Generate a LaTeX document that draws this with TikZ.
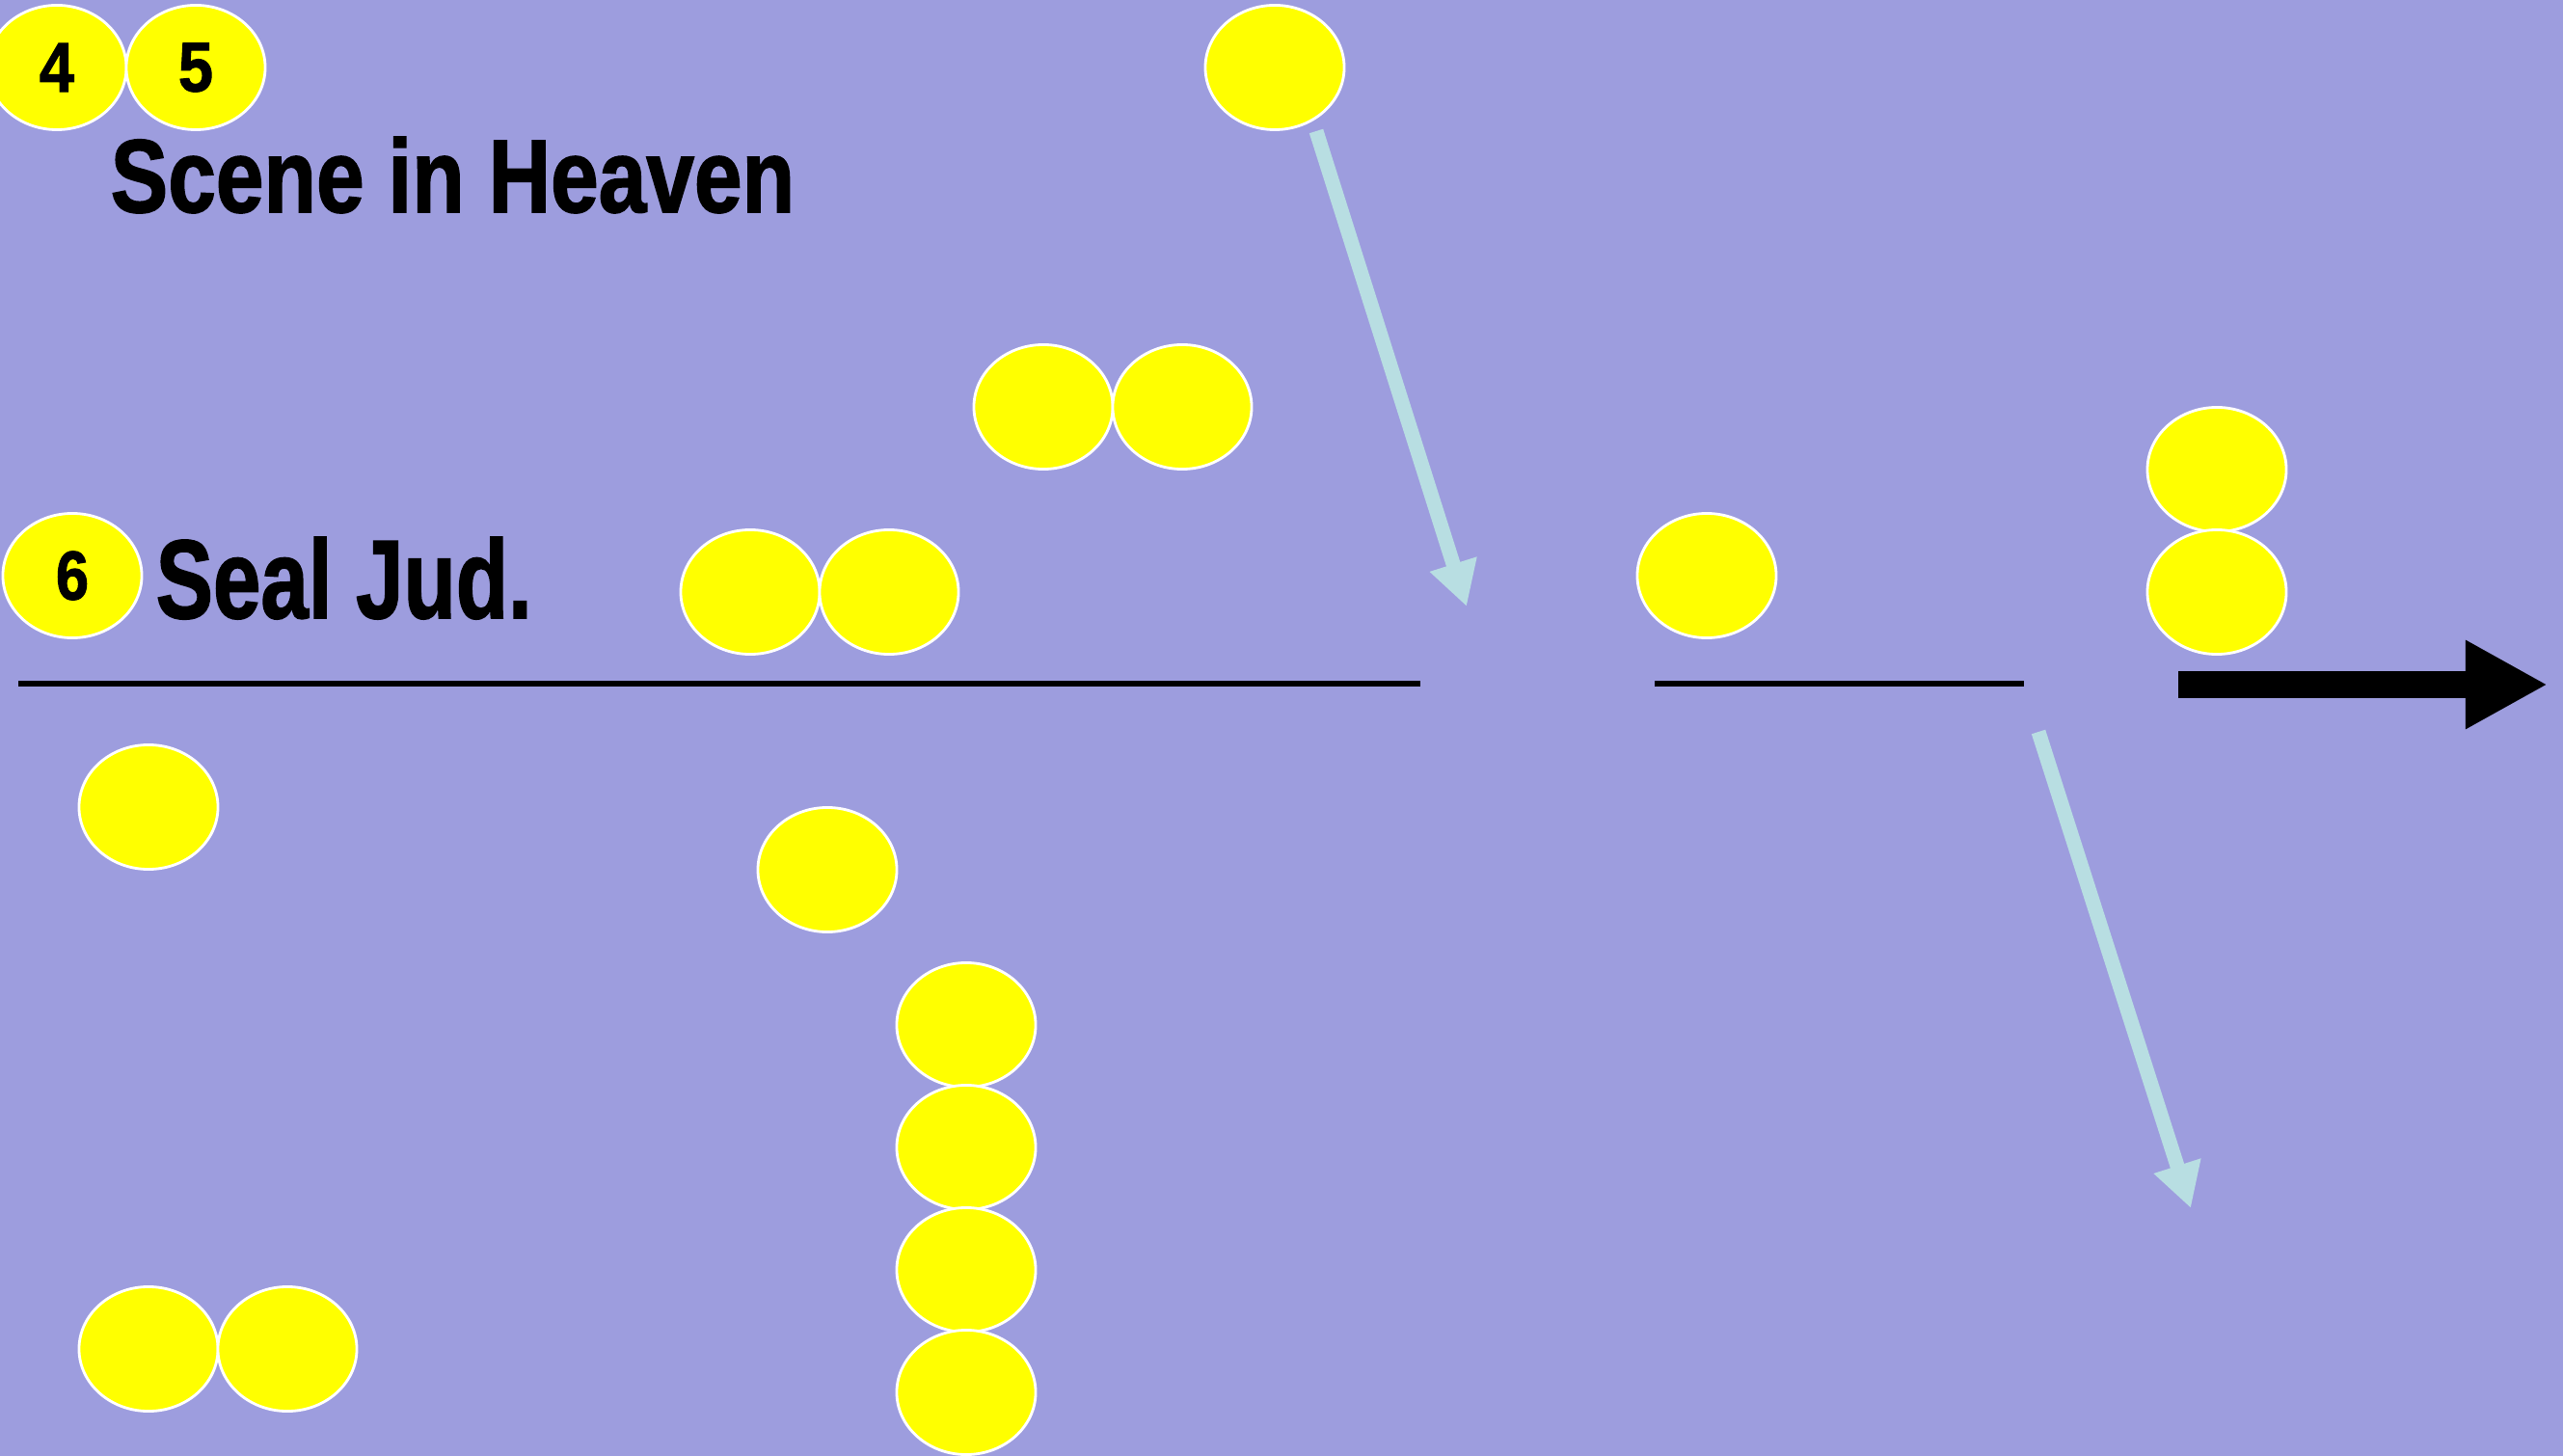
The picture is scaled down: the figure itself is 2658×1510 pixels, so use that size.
\documentclass[tikz,border=0pt]{standalone}
\usepackage{graphicx}
\usepackage{fontspec}
\setmainfont{Liberation Sans}
\newfontfamily\heavy[FakeBold=1.6]{Liberation Sans Bold}
\usetikzlibrary{shapes.geometric,arrows.meta}
\definecolor{bg}{RGB}{157,157,222}
\definecolor{ltblue}{RGB}{184,222,226}
\definecolor{sunny}{RGB}{255,255,0}
\begin{document}
\begin{tikzpicture}[x=0.01cm,y=-0.01cm,
 disc/.style={ellipse,draw=white,line width=0.8pt,fill=sunny,minimum width=1.44cm,minimum height=1.29cm,inner sep=0pt},
 rule/.style={line width=1.8pt,black},
 skyarrow/.style={ltblue,line width=0.15cm,-{Triangle[width=0.48cm,length=0.46cm]}},
 bigarrow/.style={black,line width=0.28cm,-{Triangle[width=0.86cm,length=0.85cm]}},
 title/.style={anchor=base west,inner sep=0pt}]
\fill[bg] (0,0) rectangle (2658,1510);
\useasboundingbox (0,0) rectangle (2658,1510);
% discs
\node[disc] (c4) at (59,70) {\resizebox{0.36cm}{0.5cm}{\heavy 4}};
\node[disc] (c5) at (203,70) {\resizebox{0.36cm}{0.5cm}{\heavy 5}};
\node[disc] (ctop) at (1322,70) {};
\node[disc] (p1) at (1082,422) {};
\node[disc] (p2) at (1226,422) {};
\node[disc] (c6) at (75,597) {\resizebox{0.34cm}{0.5cm}{\heavy 6}};
\node[disc] (q1) at (778,614) {};
\node[disc] (q2) at (922,614) {};
\node[disc] (r1) at (1770,597) {};
\node[disc] (s1) at (2299,487) {};
\node[disc] (s2) at (2299,614) {};
\node[disc] (u1) at (154,837) {};
\node[disc] (u2) at (858,902) {};
\node[disc] (v1) at (1002,1063) {};
\node[disc] (v2) at (1002,1190) {};
\node[disc] (v3) at (1002,1317) {};
\node[disc] (v4) at (1002,1444) {};
\node[disc] (w1) at (154,1399) {};
\node[disc] (w2) at (298,1399) {};
% titles
\node[title] (t1) at (114,220) {\resizebox{7.09cm}{0.78cm}{\heavy Scene in Heaven}};
\node[title] (t2) at (161,641) {\resizebox{3.90cm}{0.84cm}{\heavy Seal Jud.}};
% rules
\coordinate (l1a) at (19,709); \coordinate (l1b) at (1473,709);
\coordinate (l2a) at (1716,709); \coordinate (l2b) at (2099,709);
\draw[rule] (l1a) -- (l1b);
\draw[rule] (l2a) -- (l2b);
% arrows
\coordinate (a1s) at (1365,136); \coordinate (a1e) at (1521,629);
\coordinate (a2s) at (2114,759); \coordinate (a2e) at (2272,1253);
\coordinate (bs) at (2259,710); \coordinate (be) at (2642,710);
\draw[skyarrow] (a1s) -- (a1e);
\draw[skyarrow] (a2s) -- (a2e);
\draw[bigarrow] (bs) -- (be);
\end{tikzpicture}
\end{document}
